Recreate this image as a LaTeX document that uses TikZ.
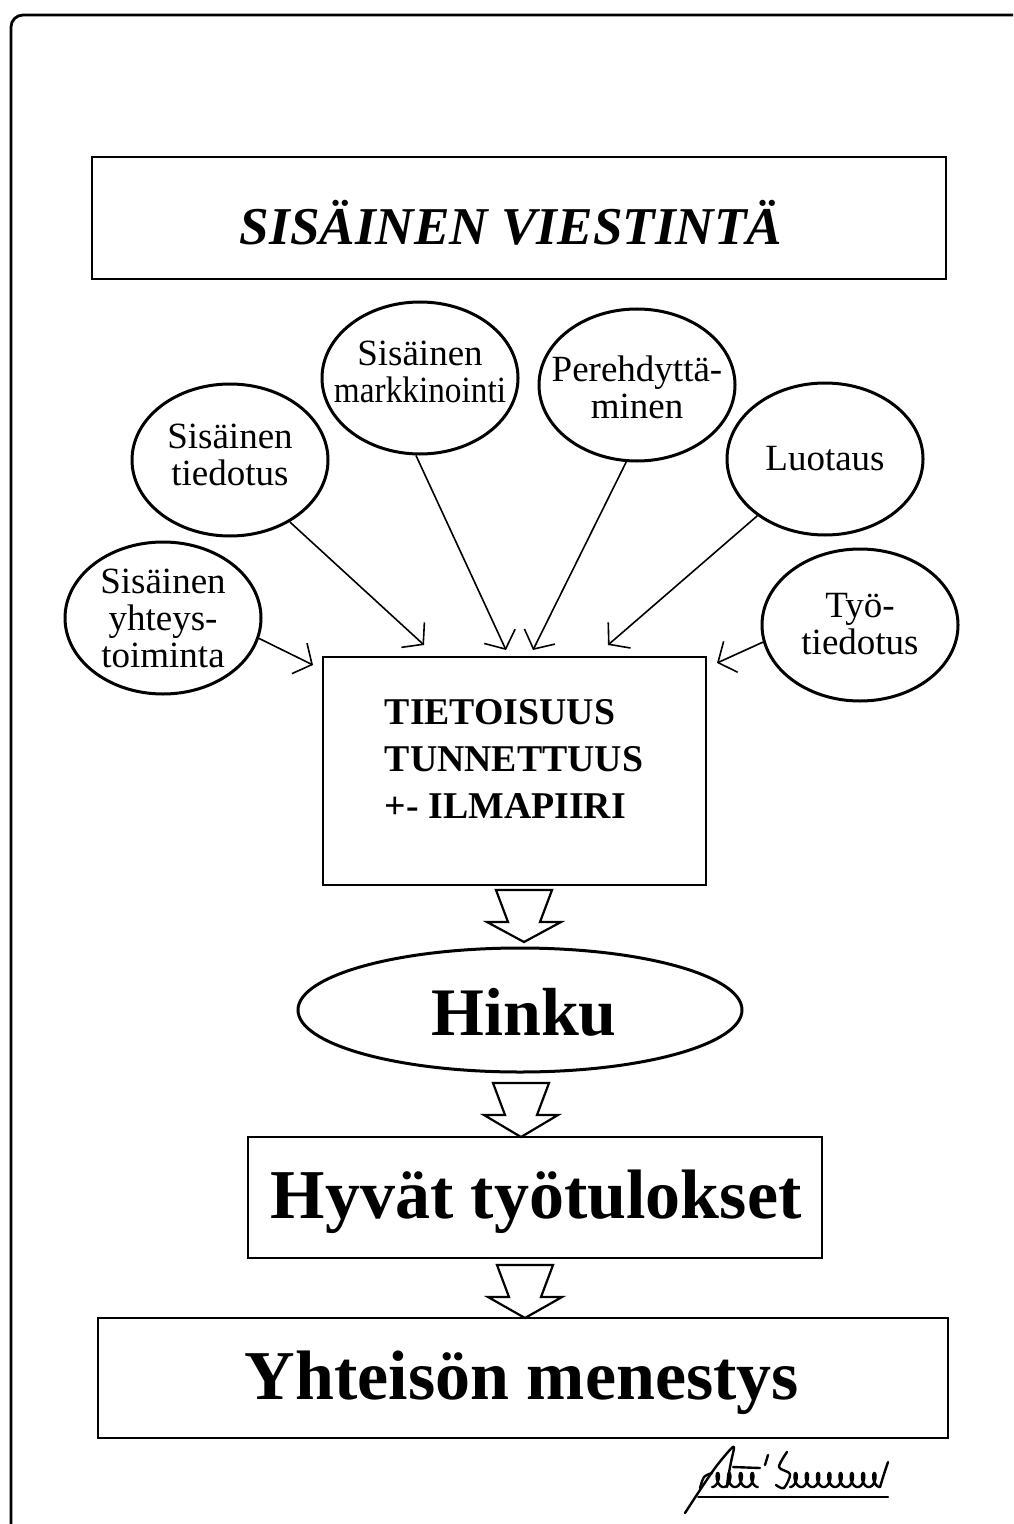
\documentclass[tikz,border=0pt]{standalone}
\usepackage{fontspec}
\setmainfont{Liberation Serif}
\usepackage{graphicx}
\usetikzlibrary{shapes.geometric,arrows.meta,calc}
\newcommand{\hollowarrow}[3]{%
  \draw[line width=1.1pt,line join=miter,fill=white]
    (#1-28,#2) -- (#1+28,#2) -- (#1+16,#2+32) -- (#1+37,#2+32) -- (#1,#3)
    -- (#1-37,#2+32) -- (#1-16,#2+32) -- cycle;}
\begin{document}
\begin{tikzpicture}[x=0.5pt,y=-0.5pt,
  bub/.style={ellipse,draw,line width=1.5pt,minimum width=98pt,minimum height=76pt,inner sep=0pt},
  lbl/.style={align=center,inner sep=0pt,font=\fontsize{18.5}{18.5}\selectfont},
  boxx/.style={draw,line width=1.1pt,inner sep=0pt},
  bigtxt/.style={inner sep=0pt,font=\fontsize{35}{40}\selectfont\bfseries},
  conn/.style={line width=0.8pt,-{Straight Barb[length=7pt,width=17pt,line width=0.8pt]}}]
\useasboundingbox (0,0) rectangle (1013,1524);
% frame
\draw[line width=1.4pt,rounded corners=6pt] (1013,15) -- (11,15) -- (11,1524);
% title
\node[boxx,minimum width=427pt,minimum height=61pt] (title) at (519,218) {};
\node[inner sep=0pt,font=\fontsize{26.6}{30}\selectfont\bfseries\itshape] (titlet) at (511,223) {SISÄINEN VIESTINTÄ};
% bubbles
\node[bub] (e1) at (163,618) {};
\node[lbl] (e1t) at (163,618) {Sisäinen\\yhteys-\\toiminta};
\node[bub] (e2) at (230,460) {};
\node[lbl] (e2t) at (230,455) {Sisäinen\\tiedotus};
\node[bub] (e3) at (420,378) {};
\node[lbl] (e3t) at (420,372) {Sisäinen\\\scalebox{0.9}[1]{markkinointi}};
\node[bub] (e4) at (637,385) {};
\node[lbl] (e4t) at (637,387) {Perehdyttä-\\minen};
\node[bub] (e5) at (825,459) {};
\node[lbl] (e5t) at (825,459) {Luotaus};
\node[bub] (e6) at (860,625) {};
\node[lbl] (e6t) at (860,624) {Työ-\\tiedotus};
% middle box
\node[boxx,minimum width=191.5pt,minimum height=114pt] (mid) at (514.5,771) {};
\node[align=left,inner sep=0pt,font=\fontsize{18.9}{23.5}\selectfont\bfseries] (midt) at (514,759)
  {TIETOISUUS\\TUNNETTUUS\\+- ILMAPIIRI};
% arrow tips
\coordinate (t1) at (313,665);
\coordinate (t2) at (424,645);
\coordinate (t3) at (506,650);
\coordinate (t4) at (533,650);
\coordinate (t5) at (608,645);
\coordinate (t6) at (717,663);
\draw[conn] (e1.-12) -- (t1);
\draw[conn] (e2.-46) -- (t2);
\draw[conn] (e3.-93) -- (t3);
\draw[conn] (e4.-98) -- (t4);
\draw[conn] (e5.-140) -- (t5);
\draw[conn] (e6.-170) -- (t6);
% Hinku
\node[ellipse,draw,line width=1.5pt,minimum width=222pt,minimum height=62pt,inner sep=0pt] (hinku) at (520,1010) {};
\node[bigtxt,font=\fontsize{34}{40}\selectfont\bfseries] (hinkut) at (524,1012) {Hinku};
% result boxes
\node[boxx,line width=1.3pt,minimum width=287pt,minimum height=60.5pt] (hyvat) at (535,1197.5) {};
\node[bigtxt] (hyvatt) at (536,1202) {Hyvät työtulokset};
\node[boxx,line width=1.3pt,minimum width=425pt,minimum height=60pt] (yht) at (523,1378) {};
\node[bigtxt] (yhtt) at (522,1383) {Yhteisön menestys};
% hollow arrows
\hollowarrow{524}{890}{942}
\hollowarrow{521}{1083}{1137}
\hollowarrow{525}{1265}{1318}
% signature (handwritten strokes)
\begin{scope}[line width=1.2pt,line cap=round,line join=round]
\draw plot[smooth] coordinates {(685,1513) (700,1490) (715,1468) (728,1452) (734,1447) (731,1462) (728,1478) (727,1487)};
\draw plot[smooth] coordinates {(700,1488) (704,1477) (712,1473)};
\draw plot[domain=0:25.1,samples=160,variable=\t] ({712 + 1.83*\t + 3.5*sin(\t r)}, {1487 - 7*(1-cos(\t r))});
\draw (733,1467) -- (760,1468);
\draw (765,1465) -- (768,1455);
\draw plot[smooth] coordinates {(787,1452) (779,1467) (790,1474) (784,1488) (776,1485)};
\draw plot[domain=0:50.3,samples=300,variable=\t] ({790 + 1.79*\t + 3.5*sin(\t r)}, {1487 - 7*(1-cos(\t r))});
\draw plot[smooth] coordinates {(880,1487) (884,1474) (888,1462)};
\draw[line width=1pt] (698,1497) -- (888,1497);
\end{scope}
\end{tikzpicture}
\end{document}
